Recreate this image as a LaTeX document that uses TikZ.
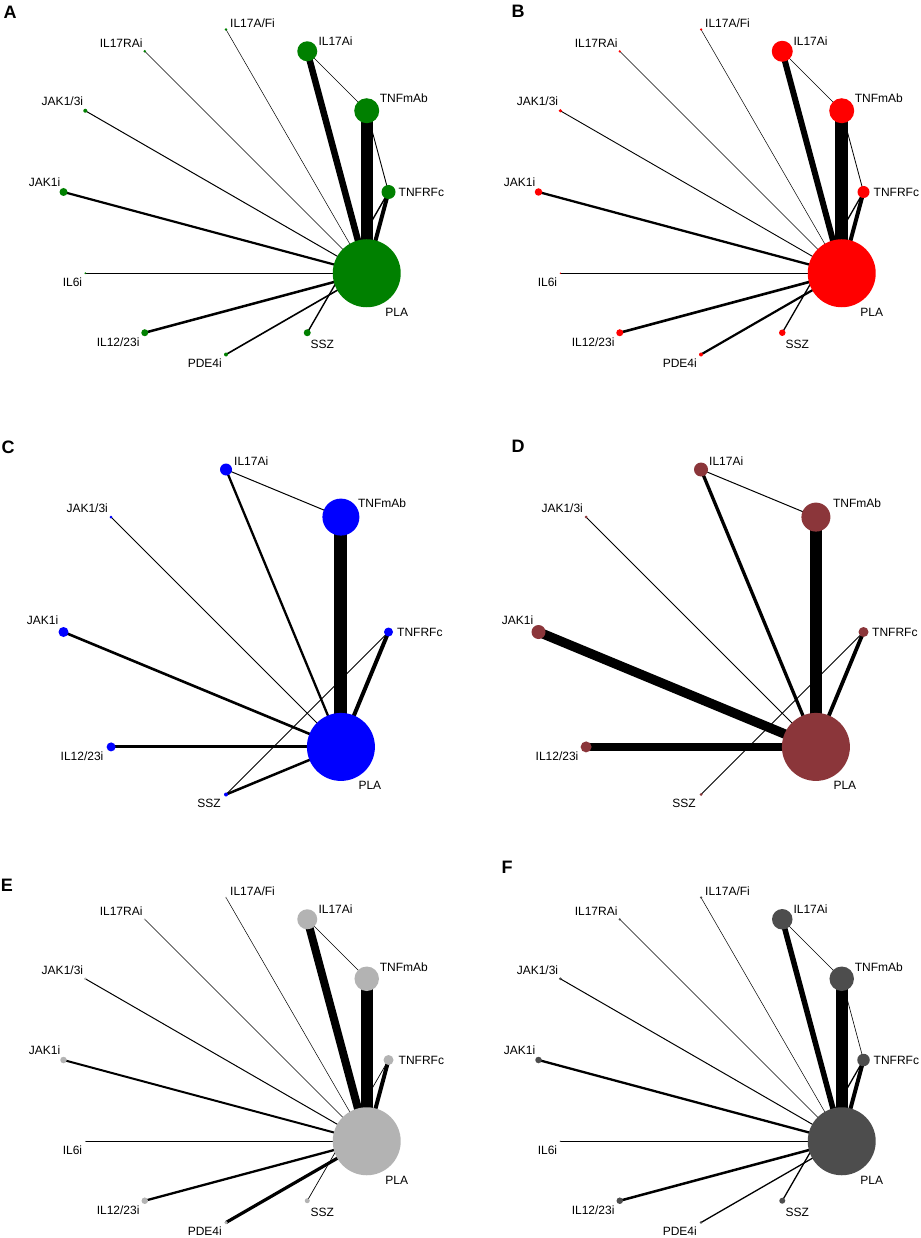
\documentclass[tikz,border=0pt]{standalone}
\usepackage{fontspec}
\setmainfont{Liberation Sans}
\usetikzlibrary{backgrounds}
\definecolor{netgreen}{RGB}{0,128,0}
\definecolor{netred}{RGB}{255,0,0}
\definecolor{netblue}{RGB}{0,0,255}
\definecolor{netbrown}{RGB}{139,54,58}
\definecolor{netlight}{RGB}{179,179,179}
\definecolor{netdark}{RGB}{77,77,77}
\colorlet{netfill}{netgreen}
\tikzset{nd/.style = {circle, inner sep = 0, fill = netfill, minimum size = #1}}
\tikzset{ln/.style = {line width = #1}}
\tikzset{lbl/.style = {inner sep = 0, text height = 8.6pt, text depth = 0pt, font = \fontsize{12}{14}\selectfont}}
\tikzset{tag/.style = {inner sep = 0, font = \fontsize{18}{20}\selectfont\bfseries}}

% names round the twelve-arm network
\newcommand{\twelvenames}{%
\node[lbl] (tPLA) at (170.7,120.3) {PLA};
\node[lbl, anchor = west] (tTNFRFc) at (172.5,0) {TNFRFc};
\node[lbl, anchor = west] (tTNFmAb) at (153.7,-93.3) {TNFmAb};
\node[lbl, anchor = west] (tIL17Ai) at (92.3,-150.7) {IL17Ai};
\node[lbl, anchor = west] (tIL17AFi) at (4,-168.5) {IL17A/Fi};
\node[lbl, anchor = east] (tIL17RAi) at (-83.3,-148.7) {IL17RAi};
\node[lbl, anchor = east] (tJAK13i) at (-142.7,-90.3) {JAK1/3i};
\node[lbl, anchor = east] (tJAK1i) at (-165.5,-10) {JAK1i};
\node[lbl, anchor = east] (tIL6i) at (-143.7,90.3) {IL6i};
\node[lbl, anchor = east] (tIL1223i) at (-86.3,149.7) {IL12/23i};
\node[lbl, anchor = east] (tPDE4i) at (-4,171.5) {PDE4i};
\node[lbl] (tSSZ) at (96.3,151.7) {SSZ};
}
% names round the eight-arm network
\newcommand{\eightnames}{%
\node[lbl] (tPLA) at (143.9,153.4) {PLA};
\node[lbl, anchor = west] (tTNFRFc) at (171,0) {TNFRFc};
\node[lbl, anchor = west] (tTNFmAb) at (131.9,-128.9) {TNFmAb};
\node[lbl, anchor = west] (tIL17Ai) at (8,-171) {IL17Ai};
\node[lbl, anchor = east] (tJAK13i) at (-117.9,-123.4) {JAK1/3i};
\node[lbl, anchor = east] (tJAK1i) at (-167.5,-11.5) {JAK1i};
\node[lbl, anchor = east] (tIL1223i) at (-122.4,124.4) {IL12/23i};
\node[lbl, anchor = east] (tSSZ) at (-5,171.5) {SSZ};
}

\begin{document}
\begin{tikzpicture}[x = 1pt, y = -1pt]
\useasboundingbox (0,0) rectangle (920,1238);
\node[tag] (tagA) at (10,12) {A};
\node[tag] (tagB) at (518,11) {B};
\node[tag] (tagC) at (8,447) {C};
\node[tag] (tagD) at (518,446) {D};
\node[tag] (tagE) at (7,885) {E};
\node[tag] (tagF) at (507,867) {F};

% A
\begin{scope}[shift = {(226,192)}, name prefix = A-]
\colorlet{netfill}{netgreen}
\node[nd = 68] (PLA) at (30:162.5) {};
\node[nd = 14] (TNFRFc) at (0:162.5) {};
\node[nd = 25] (TNFmAb) at (-30:162.5) {};
\node[nd = 20] (IL17Ai) at (-60:162.5) {};
\node[nd = 2.6] (IL17AFi) at (-90:162.5) {};
\node[nd = 2.6] (IL17RAi) at (-120:162.5) {};
\node[nd = 4] (JAK13i) at (-150:162.5) {};
\node[nd = 8] (JAK1i) at (180:162.5) {};
\node[nd = 2] (IL6i) at (150:162.5) {};
\node[nd = 7] (IL1223i) at (120:162.5) {};
\node[nd = 4] (PDE4i) at (90:162.5) {};
\node[nd = 7] (SSZ) at (60:162.5) {};
\begin{scope}[on background layer]
\draw[ln = 12] (PLA.center) -- (TNFmAb.center);
\draw[ln = 6.5] (PLA.center) -- (IL17Ai.center);
\draw[ln = 4] (PLA.center) -- (TNFRFc.center);
\draw[ln = 0.9] (TNFmAb.center) -- (TNFRFc.center);
\draw[ln = 0.6] (IL17Ai.center) -- (TNFmAb.center);
\draw[ln = 0.5] (PLA.center) -- (IL17AFi.center);
\draw[ln = 0.6] (PLA.center) -- (IL17RAi.center);
\draw[ln = 1] (PLA.center) -- (JAK13i.center);
\draw[ln = 2.2] (PLA.center) -- (JAK1i.center);
\draw[ln = 0.6] (PLA.center) -- (IL6i.center);
\draw[ln = 2.5] (PLA.center) -- (IL1223i.center);
\draw[ln = 1.6] (PLA.center) -- (PDE4i.center);
\draw[ln = 1.4] (TNFRFc.center) -- (SSZ.center);
\end{scope}
\twelvenames
\end{scope}

% B
\begin{scope}[shift = {(701,192)}, name prefix = B-]
\colorlet{netfill}{netred}
\node[nd = 68] (PLA) at (30:162.5) {};
\node[nd = 12] (TNFRFc) at (0:162.5) {};
\node[nd = 25] (TNFmAb) at (-30:162.5) {};
\node[nd = 21] (IL17Ai) at (-60:162.5) {};
\node[nd = 2.5] (IL17AFi) at (-90:162.5) {};
\node[nd = 2.5] (IL17RAi) at (-120:162.5) {};
\node[nd = 3.5] (JAK13i) at (-150:162.5) {};
\node[nd = 7.5] (JAK1i) at (180:162.5) {};
\node[nd = 1.5] (IL6i) at (150:162.5) {};
\node[nd = 7] (IL1223i) at (120:162.5) {};
\node[nd = 4] (PDE4i) at (90:162.5) {};
\node[nd = 6.5] (SSZ) at (60:162.5) {};
\begin{scope}[on background layer]
\draw[ln = 12.5] (PLA.center) -- (TNFmAb.center);
\draw[ln = 6] (PLA.center) -- (IL17Ai.center);
\draw[ln = 4] (PLA.center) -- (TNFRFc.center);
\draw[ln = 0.8] (TNFmAb.center) -- (TNFRFc.center);
\draw[ln = 0.6] (IL17Ai.center) -- (TNFmAb.center);
\draw[ln = 0.5] (PLA.center) -- (IL17AFi.center);
\draw[ln = 0.6] (PLA.center) -- (IL17RAi.center);
\draw[ln = 0.9] (PLA.center) -- (JAK13i.center);
\draw[ln = 2.3] (PLA.center) -- (JAK1i.center);
\draw[ln = 0.6] (PLA.center) -- (IL6i.center);
\draw[ln = 2.6] (PLA.center) -- (IL1223i.center);
\draw[ln = 2.2] (PLA.center) -- (PDE4i.center);
\draw[ln = 1.3] (TNFRFc.center) -- (SSZ.center);
\end{scope}
\twelvenames
\end{scope}

% C
\begin{scope}[shift = {(226,632)}, name prefix = C-]
\colorlet{netfill}{netblue}
\node[nd = 68] (PLA) at (45:162.5) {};
\node[nd = 9] (TNFRFc) at (0:162.5) {};
\node[nd = 37] (TNFmAb) at (-45:162.5) {};
\node[nd = 12] (IL17Ai) at (-90:162.5) {};
\node[nd = 3] (JAK13i) at (-135:162.5) {};
\node[nd = 10] (JAK1i) at (180:162.5) {};
\node[nd = 9] (IL1223i) at (135:162.5) {};
\node[nd = 4] (SSZ) at (90:162.5) {};
\begin{scope}[on background layer]
\draw[ln = 13] (PLA.center) -- (TNFmAb.center);
\draw[ln = 2.3] (PLA.center) -- (IL17Ai.center);
\draw[ln = 1] (IL17Ai.center) -- (TNFmAb.center);
\draw[ln = 0.9] (PLA.center) -- (JAK13i.center);
\draw[ln = 2.6] (PLA.center) -- (JAK1i.center);
\draw[ln = 3] (PLA.center) -- (IL1223i.center);
\draw[ln = 4] (PLA.center) -- (TNFRFc.center);
\draw[ln = 0.8] (TNFRFc.center) -- (SSZ.center);
\draw[ln = 2.5] (PLA.center) -- (SSZ.center);
\end{scope}
\eightnames
\end{scope}

% D
\begin{scope}[shift = {(701,632)}, name prefix = D-]
\colorlet{netfill}{netbrown}
\node[nd = 68] (PLA) at (45:162.5) {};
\node[nd = 10] (TNFRFc) at (0:162.5) {};
\node[nd = 29] (TNFmAb) at (-45:162.5) {};
\node[nd = 14] (IL17Ai) at (-90:162.5) {};
\node[nd = 3] (JAK13i) at (-135:162.5) {};
\node[nd = 14] (JAK1i) at (180:162.5) {};
\node[nd = 11] (IL1223i) at (135:162.5) {};
\node[nd = 3] (SSZ) at (90:162.5) {};
\begin{scope}[on background layer]
\draw[ln = 12.5] (PLA.center) -- (TNFmAb.center);
\draw[ln = 3.3] (PLA.center) -- (IL17Ai.center);
\draw[ln = 1] (IL17Ai.center) -- (TNFmAb.center);
\draw[ln = 1] (PLA.center) -- (JAK13i.center);
\draw[ln = 9.5] (PLA.center) -- (JAK1i.center);
\draw[ln = 7.5] (PLA.center) -- (IL1223i.center);
\draw[ln = 3.8] (PLA.center) -- (TNFRFc.center);
\draw[ln = 0.9] (TNFRFc.center) -- (SSZ.center);
\end{scope}
\eightnames
\end{scope}

% E
\begin{scope}[shift = {(226,1060)}, name prefix = E-]
\colorlet{netfill}{netlight}
\node[nd = 68] (PLA) at (30:162.5) {};
\node[nd = 10] (TNFRFc) at (0:162.5) {};
\node[nd = 24.5] (TNFmAb) at (-30:162.5) {};
\node[nd = 20] (IL17Ai) at (-60:162.5) {};
\node[nd = 2] (IL17AFi) at (-90:162.5) {};
\node[nd = 2] (IL17RAi) at (-120:162.5) {};
\node[nd = 2.6] (JAK13i) at (-150:162.5) {};
\node[nd = 6.5] (JAK1i) at (180:162.5) {};
\node[nd = 1] (IL6i) at (150:162.5) {};
\node[nd = 6.5] (IL1223i) at (120:162.5) {};
\node[nd = 3.5] (PDE4i) at (90:162.5) {};
\node[nd = 5] (SSZ) at (60:162.5) {};
\begin{scope}[on background layer]
\draw[ln = 12] (PLA.center) -- (TNFmAb.center);
\draw[ln = 8] (PLA.center) -- (IL17Ai.center);
\draw[ln = 4] (PLA.center) -- (TNFRFc.center);
\draw[ln = 0.6] (IL17Ai.center) -- (TNFmAb.center);
\draw[ln = 0.5] (PLA.center) -- (IL17AFi.center);
\draw[ln = 0.6] (PLA.center) -- (IL17RAi.center);
\draw[ln = 1] (PLA.center) -- (JAK13i.center);
\draw[ln = 2] (PLA.center) -- (JAK1i.center);
\draw[ln = 0.8] (PLA.center) -- (IL6i.center);
\draw[ln = 2.3] (PLA.center) -- (IL1223i.center);
\draw[ln = 3.2] (PLA.center) -- (PDE4i.center);
\draw[ln = 0.7] (TNFRFc.center) -- (SSZ.center);
\end{scope}
\twelvenames
\end{scope}

% F
\begin{scope}[shift = {(701,1060)}, name prefix = F-]
\colorlet{netfill}{netdark}
\node[nd = 68] (PLA) at (30:162.5) {};
\node[nd = 12.5] (TNFRFc) at (0:162.5) {};
\node[nd = 24.5] (TNFmAb) at (-30:162.5) {};
\node[nd = 20.5] (IL17Ai) at (-60:162.5) {};
\node[nd = 2.5] (IL17AFi) at (-90:162.5) {};
\node[nd = 2.5] (IL17RAi) at (-120:162.5) {};
\node[nd = 3] (JAK13i) at (-150:162.5) {};
\node[nd = 6.5] (JAK1i) at (180:162.5) {};
\node[nd = 1.4] (IL6i) at (150:162.5) {};
\node[nd = 6.5] (IL1223i) at (120:162.5) {};
\node[nd = 2.6] (PDE4i) at (90:162.5) {};
\node[nd = 6] (SSZ) at (60:162.5) {};
\begin{scope}[on background layer]
\draw[ln = 12] (PLA.center) -- (TNFmAb.center);
\draw[ln = 5.5] (PLA.center) -- (IL17Ai.center);
\draw[ln = 4] (PLA.center) -- (TNFRFc.center);
\draw[ln = 0.6] (TNFmAb.center) -- (TNFRFc.center);
\draw[ln = 0.6] (IL17Ai.center) -- (TNFmAb.center);
\draw[ln = 0.5] (PLA.center) -- (IL17AFi.center);
\draw[ln = 0.6] (PLA.center) -- (IL17RAi.center);
\draw[ln = 1] (PLA.center) -- (JAK13i.center);
\draw[ln = 2.3] (PLA.center) -- (JAK1i.center);
\draw[ln = 0.6] (PLA.center) -- (IL6i.center);
\draw[ln = 2.5] (PLA.center) -- (IL1223i.center);
\draw[ln = 1.3] (PLA.center) -- (PDE4i.center);
\draw[ln = 1.3] (TNFRFc.center) -- (SSZ.center);
\end{scope}
\twelvenames
\end{scope}
\end{tikzpicture}
\end{document}
